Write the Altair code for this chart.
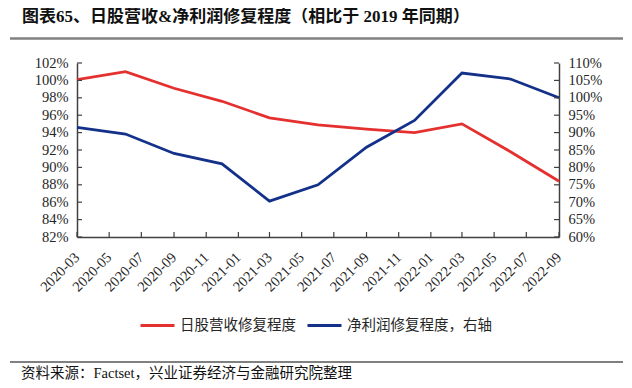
import altair as alt
import pandas as pd

# ---------------- data ----------------
quarters = ["2020-03", "2020-06", "2020-09", "2020-12", "2021-03", "2021-06",
            "2021-09", "2021-12", "2022-03", "2022-06", "2022-09"]
revenue_pct = [100.1, 101.0, 99.1, 97.6, 95.7, 94.9, 94.4, 94.0, 95.0, 91.8, 88.4]
profit_pct = [91.5, 89.6, 84.0, 81.0, 70.3, 75.0, 85.8, 93.5, 107.1, 105.4, 100.0]

x_tick_labels = ["2020-03", "2020-05", "2020-07", "2020-09", "2020-11", "2021-01",
                 "2021-03", "2021-05", "2021-07", "2021-09", "2021-11", "2022-01",
                 "2022-03", "2022-05", "2022-07", "2022-09"]
left_ticks = [82, 84, 86, 88, 90, 92, 94, 96, 98, 100, 102]
right_ticks = [60, 65, 70, 75, 80, 85, 90, 95, 100, 105, 110]

series_names = ["日股营收修复程度", "净利润修复程度，右轴"]
series_colors = ["#e4312f", "#14318a"]

title_text = "图表65、日股营收&净利润修复程度（相比于 2019 年同期）"
source_text = "资料来源：Factset，兴业证券经济与金融研究院整理"

# ---------------- layout constants ----------------
W, H = 482, 174
AXIS_COLOR = "#404040"
LABEL_COLOR = "#262626"
SERIF = "Liberation Serif"
CJK = "Noto Sans CJK SC"


def to_dt(s):
    return alt.DateTime(year=int(s[:4]), month=int(s[5:7]), date=1)


df_rev = pd.DataFrame({"date": [q + "-01T00:00:00" for q in quarters],
                       "value": revenue_pct,
                       "series": series_names[0]})
df_pro = pd.DataFrame({"date": [q + "-01T00:00:00" for q in quarters],
                       "value": profit_pct,
                       "series": series_names[1]})
df_xt = pd.DataFrame({"date": [s + "-01T00:00:00" for s in x_tick_labels]})
df_lt = pd.DataFrame({"v": left_ticks})
df_rt = pd.DataFrame({"v": right_ticks})

x_scale = alt.Scale(domain=[to_dt(x_tick_labels[0]), to_dt(x_tick_labels[-1])])
y_left_scale = alt.Scale(domain=[left_ticks[0], left_ticks[-1]], nice=False, zero=False)
y_right_scale = alt.Scale(domain=[right_ticks[0], right_ticks[-1]], nice=False, zero=False)
color_scale = alt.Scale(domain=series_names, range=series_colors)

x_axis = alt.Axis(values=[to_dt(s) for s in x_tick_labels], format="%Y-%m",
                  labelAngle=-45, labelAlign="right", labelBaseline="middle",
                  labelPadding=18, ticks=False, tickSize=0, grid=False,
                  domainColor=AXIS_COLOR, domainWidth=1.5,
                  labelFont=SERIF, labelFontSize=14.5, labelColor=LABEL_COLOR,
                  labelOverlap=False, labelFlush=False, title=None)

left_axis = alt.Axis(values=left_ticks, labelExpr="datum.value + '%'", orient="left",
                     ticks=False, tickSize=0, grid=False,
                     domainColor=AXIS_COLOR, domainWidth=1.5,
                     labelFont=SERIF, labelFontSize=14.5, labelColor=LABEL_COLOR,
                     labelPadding=9, labelOverlap=False, title=None)

right_axis = alt.Axis(values=right_ticks, labelExpr="datum.value + '%'", orient="right",
                      ticks=False, tickSize=0, grid=False,
                      domainColor=AXIS_COLOR, domainWidth=1.5,
                      labelFont=SERIF, labelFontSize=14.5, labelColor=LABEL_COLOR,
                      labelPadding=9, labelOverlap=False, title=None)

legend = alt.Legend(orient="none", legendX=62, legendY=244, direction="horizontal",
                    title=None, symbolType="stroke", symbolSize=1156,
                    symbolStrokeWidth=3, labelFont=CJK, labelFontSize=14.5,
                    labelColor=LABEL_COLOR, labelOffset=4, columnPadding=5,
                    labelLimit=300)

# ---------------- left (revenue) group ----------------
red_line = alt.Chart(df_rev).mark_line(strokeWidth=2.8).encode(
    x=alt.X("date:T", scale=x_scale, axis=x_axis),
    y=alt.Y("value:Q", scale=y_left_scale, axis=left_axis),
    color=alt.Color("series:N", scale=color_scale, legend=legend),
)

x_ticks = alt.Chart(df_xt).mark_rule(color=AXIS_COLOR, strokeWidth=1.2).encode(
    x=alt.X("date:T", scale=x_scale, axis=x_axis),
    y=alt.value(H),
    y2=alt.value(H - 5),
)

left_tick_marks = alt.Chart(df_lt).mark_rule(color=AXIS_COLOR, strokeWidth=1.2).encode(
    y=alt.Y("v:Q", scale=y_left_scale, axis=left_axis),
    x=alt.value(0),
    x2=alt.value(5),
)

title_mark = alt.Chart(pd.DataFrame({"t": [title_text]})).mark_text(
    align="left", baseline="middle", font=SERIF + ", " + CJK, fontSize=17,
    fontWeight="bold", color="#111111"
).encode(text="t:N", x=alt.value(-55), y=alt.value(-46))

top_rule = alt.Chart(pd.DataFrame({"a": [0]})).mark_rule(color="#808080", strokeWidth=2.5).encode(
    x=alt.value(-67), x2=alt.value(546), y=alt.value(-24.5)
)

bottom_rule = alt.Chart(pd.DataFrame({"a": [0]})).mark_rule(color="#808080", strokeWidth=2).encode(
    x=alt.value(-67), x2=alt.value(546), y=alt.value(299)
)

source_mark = alt.Chart(pd.DataFrame({"t": [source_text]})).mark_text(
    align="left", baseline="middle", font=SERIF + ", " + CJK, fontSize=14.5,
    color="#111111"
).encode(text="t:N", x=alt.value(-56), y=alt.value(311))

left_group = alt.layer(red_line, x_ticks, left_tick_marks, title_mark,
                       top_rule, bottom_rule, source_mark)

# ---------------- right (profit) group ----------------
blue_line = alt.Chart(df_pro).mark_line(strokeWidth=2.8).encode(
    x=alt.X("date:T", scale=x_scale, axis=x_axis),
    y=alt.Y("value:Q", scale=y_right_scale, axis=right_axis),
    color=alt.Color("series:N", scale=color_scale, legend=legend),
)

right_tick_marks = alt.Chart(df_rt).mark_rule(color=AXIS_COLOR, strokeWidth=1.2).encode(
    y=alt.Y("v:Q", scale=y_right_scale, axis=right_axis),
    x=alt.value(W),
    x2=alt.value(W - 5),
)

right_group = alt.layer(blue_line, right_tick_marks)

chart = alt.layer(left_group, right_group).resolve_scale(
    y="independent"
).properties(
    width=W, height=H,
    padding={"left": 69, "top": 55, "right": 65, "bottom": 143},
    autosize=alt.AutoSizeParams(type="none"),
    background="white",
).configure_view(stroke=None)

chart.save("out.html", embed_options={"renderer": "svg", "actions": False})
